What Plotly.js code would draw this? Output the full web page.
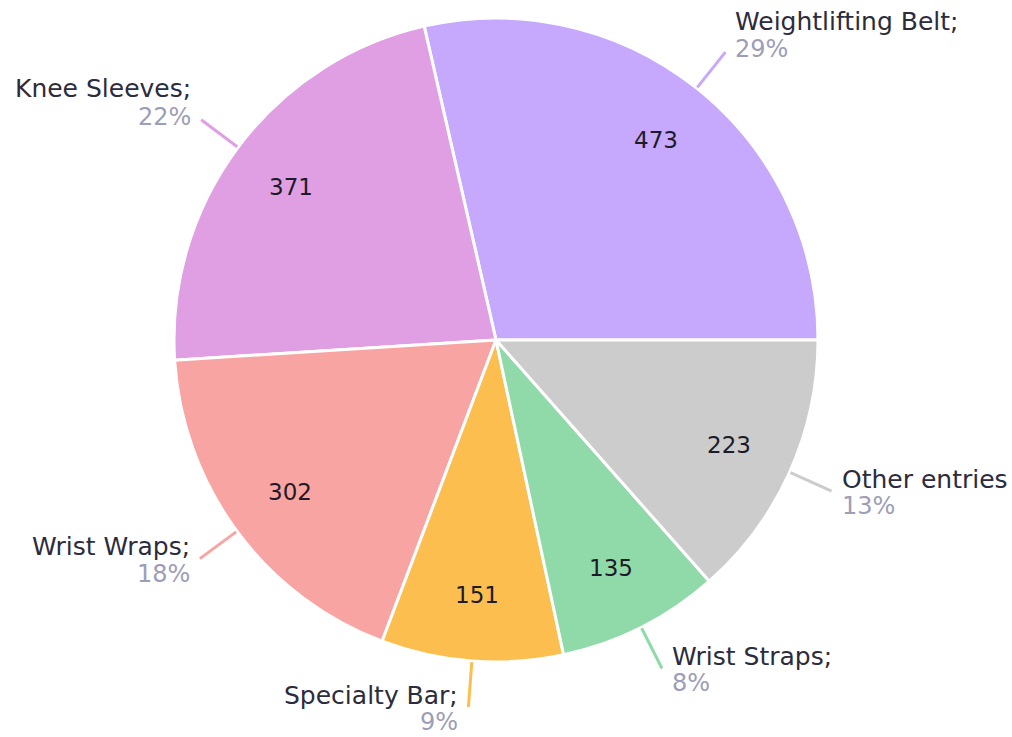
<!DOCTYPE html>
<html>
<head>
<meta charset="utf-8">
<script src="https://cdn.plot.ly/plotly-3.0.1.min.js"></script>
<style>html,body{margin:0;padding:0;background:#fff;}#chart{width:1012px;height:737px;}</style>
</head>
<body>
<div id="chart"></div>
<script>
// ---- data ----
const categories = ['Weightlifting Belt', 'Knee Sleeves', 'Wrist Wraps', 'Specialty Bar', 'Wrist Straps', 'Other entries'];
const labelTexts = ['Weightlifting Belt;', 'Knee Sleeves;', 'Wrist Wraps;', 'Specialty Bar;', 'Wrist Straps;', 'Other entries'];
const values = [473, 371, 302, 151, 135, 223];
const colors = ['#c6a8fd', '#e19fe3', '#f8a4a3', '#fdbe50', '#90d9a9', '#cccccc'];

// ---- layout geometry ----
const W = 1012, H = 737;
const cx = 496, cy = 340, R = 322;
const FONT = 'DejaVu Sans, sans-serif';

const total = values.reduce((a, b) => a + b, 0);
const px2x = p => p / W;
const py2y = p => 1 - p / H;

const shapes = [];
const annotations = [];
let cum = 0;
values.forEach((v, i) => {
  const mid = (cum + v / 2) / total * 2 * Math.PI; // counterclockwise from east
  cum += v;
  const c = Math.cos(mid), s = Math.sin(mid);
  // value label inside
  const rv = 0.795 * R;
  annotations.push({
    xref: 'paper', yref: 'paper', x: px2x(cx + rv * c), y: py2y(cy - rv * s),
    text: String(v), showarrow: false, xanchor: 'center', yanchor: 'middle',
    font: {family: FONT, size: 23, color: '#1c1c28'}
  });
  // leader line
  const x0 = cx + (R + 1) * c, y0 = cy - (R + 1) * s;
  const x1 = cx + 1.143 * R * c, y1 = cy - 1.143 * R * s;
  shapes.push({
    type: 'line', xref: 'paper', yref: 'paper',
    x0: px2x(x0), y0: py2y(y0), x1: px2x(x1), y1: py2y(y1),
    line: {color: colors[i], width: 3}
  });
  const right = c > 0;
  const tx = right ? x1 + 8 : x1 - 8;
  const upper = s > 0;
  const l1 = upper ? y1 - 31 : y1 - 12;
  const l2 = upper ? y1 - 3 : y1 + 15;
  const pct = Math.round(v / total * 100) + '%';
  annotations.push({
    xref: 'paper', yref: 'paper', x: px2x(tx), y: py2y(l1),
    text: labelTexts[i], showarrow: false, xanchor: right ? 'left' : 'right', yanchor: 'middle',
    font: {family: FONT, size: 25, color: '#2c2c3c'}
  });
  annotations.push({
    xref: 'paper', yref: 'paper', x: px2x(tx), y: py2y(l2),
    text: pct, showarrow: false, xanchor: right ? 'left' : 'right', yanchor: 'middle',
    font: {family: FONT, size: 24, color: '#9d9db8'}
  });
});

const trace = {
  type: 'pie',
  labels: categories,
  values: values,
  sort: false,
  direction: 'counterclockwise',
  rotation: 90 - 360 * values[0] / total,
  marker: {colors: colors, line: {color: '#ffffff', width: 3}},
  textinfo: 'none',
  hoverinfo: 'label+value+percent',
  showlegend: false,
  domain: {x: [(cx - R) / W, (cx + R) / W], y: [1 - (cy + R) / H, 1 - (cy - R) / H]}
};

const layout = {
  width: W, height: H,
  margin: {l: 0, r: 0, t: 0, b: 0},
  paper_bgcolor: '#ffffff',
  showlegend: false,
  shapes: shapes,
  annotations: annotations
};

Plotly.newPlot('chart', [trace], layout, {displayModeBar: false, staticPlot: false});
</script>
</body>
</html>
